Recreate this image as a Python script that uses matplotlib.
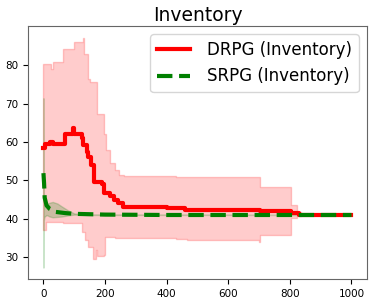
import matplotlib

matplotlib.use("Agg")
import matplotlib.pyplot as plt
import numpy as np

# DRPG: mean curve and band (step-wise breakpoints)
drpg_x = [0, 5, 20, 30, 70, 95, 100, 125, 130, 140, 145, 155, 165, 190, 198,
          215, 230, 241, 257, 300, 400, 460, 702, 805, 830, 1000]
drpg_y = [58.4, 59.6, 60.0, 59.5, 62.0, 63.6, 62.2, 61.0, 59.2, 57.5, 56.1,
          54.0, 49.6, 49.0, 46.7, 46.0, 45.0, 44.0, 43.1, 43.0, 42.8, 42.3,
          42.0, 41.6, 41.0, 41.0]

band_x = [0, 8, 23, 32, 65, 98, 125, 128, 133, 135, 143, 145, 152, 160, 170,
          174, 175, 197, 200, 203, 217, 233, 244, 260, 430, 465, 700, 702,
          802, 822, 835, 1000]
drpg_hi = [80.4, 80.4, 79.1, 80.8, 84.3, 86.1, 86.1, 87.2, 83.0, 83.0, 76.5,
           76.5, 75.7, 75.7, 75.7, 67.4, 67.4, 62.2, 62.2, 57.9, 54.5, 52.7,
           51.4, 51.2, 51.0, 51.0, 51.0, 48.3, 43.5, 41.8, 41.0, 41.0]
drpg_lo = [37.0, 39.2, 39.2, 39.2, 39.0, 39.0, 36.6, 36.6, 36.6, 34.4, 34.4,
           32.7, 32.7, 29.5, 31.8, 31.8, 30.2, 30.5, 35.3, 35.3, 35.3, 34.9,
           34.9, 34.9, 34.7, 34.5, 34.0, 35.7, 40.2, 40.8, 41.0, 41.0]

# SRPG: mean curve and band
srpg_x = [0, 2, 4, 10, 20, 40, 70, 100, 200, 400, 1000]
srpg_y = [51.9, 49.3, 45.5, 43.5, 42.6, 41.8, 41.5, 41.3, 41.1, 41.0, 41.0]

sband_x = [0, 1, 3, 10, 20, 30, 45, 60, 80, 100, 150, 1000]
srpg_hi = [71.4, 47.0, 44.5, 43.8, 44.2, 44.4, 44.0, 43.2, 42.2, 41.4, 41.1, 41.0]
srpg_lo = [27.3, 39.5, 40.5, 41.0, 40.6, 40.4, 40.5, 40.6, 40.9, 41.1, 41.0, 41.0]

fig = plt.figure(figsize=(3.74, 3.04), dpi=100)
ax = fig.add_axes([0.075, 0.082, 0.906, 0.832])

ax.fill_between(band_x, drpg_lo, drpg_hi, step="post", color="red", alpha=0.2)
ax.plot(drpg_x, drpg_y, color="red", lw=3, drawstyle="steps-post",
        label="DRPG (Inventory)")
ax.fill_between(sband_x, srpg_lo, srpg_hi, color="green", alpha=0.2)
ax.plot(srpg_x, srpg_y, color="green", lw=3, ls="--", label="SRPG (Inventory)")

ax.set_title("Inventory", fontsize=13.5, pad=4)
ax.set_yticks([30, 40, 50, 60, 70, 80])
ax.set_xticks([0, 200, 400, 600, 800, 1000])
ax.tick_params(labelsize=7.5)
for s in ax.spines.values():
    s.set_color("#666666")
ax.legend(loc="upper right", fontsize=12, handletextpad=1.0)

fig.savefig("out.png", dpi=100)
